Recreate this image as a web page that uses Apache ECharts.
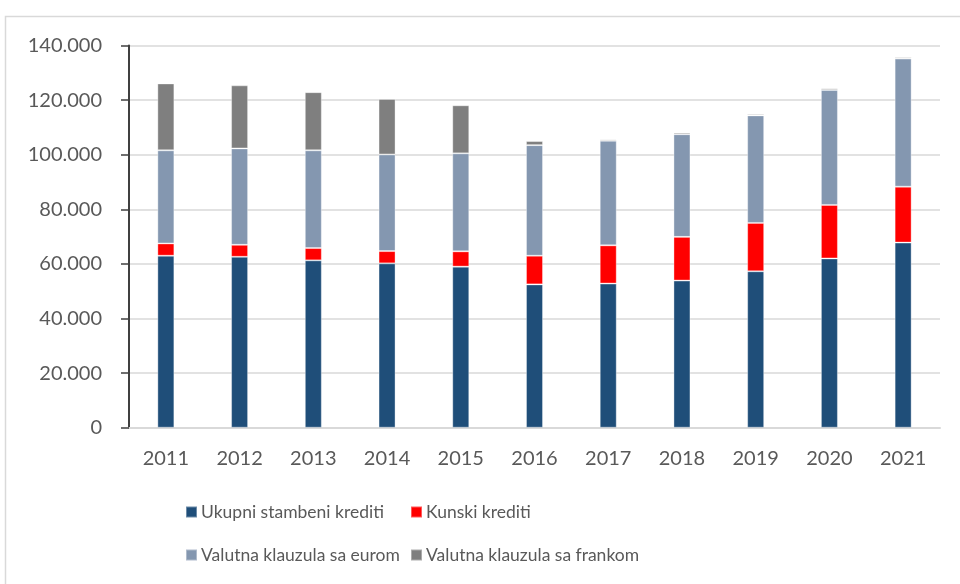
<!DOCTYPE html>
<html>
<head>
<meta charset="utf-8">
<script src="https://cdn.jsdelivr.net/npm/echarts@6/dist/echarts.min.js"></script>
<style>
  html, body { margin: 0; padding: 0; background: #fff; }
  #main { width: 960px; height: 584px; }
</style>
</head>
<body>
<div id="main"></div>
<script>
var years = ['2011', '2012', '2013', '2014', '2015', '2016', '2017', '2018', '2019', '2020', '2021'];
var ukupni = [63000, 62600, 61300, 60200, 59000, 52500, 52800, 53900, 57300, 62000, 67800];
var kunski = [4500, 4400, 4500, 4500, 5600, 10500, 14000, 16000, 17700, 19600, 20500];
var euro = [34100, 35300, 35800, 35400, 35900, 40500, 38300, 37600, 39400, 42100, 46900];
var franak = [24500, 23100, 21300, 20300, 17600, 1500, 500, 600, 500, 600, 500];
var seriesNames = ['Ukupni stambeni krediti', 'Kunski krediti', 'Valutna klauzula sa eurom', 'Valutna klauzula sa frankom'];
var colors = ['#1F4E79', '#FF0000', '#8497B0', '#7F7F7F'];

var font = 'Lato, sans-serif';
var textColor = '#595959';

function bar(name, data, color) {
  return {
    name: name,
    type: 'bar',
    stack: 'total',
    barWidth: 17,
    data: data,
    itemStyle: { color: color, borderColor: 'rgba(255,255,255,0.35)', borderWidth: 1 }
  };
}

function legendAt(name, left, top) {
  return {
    data: [name],
    left: left,
    top: top,
    itemWidth: 11,
    itemHeight: 11,
    itemGap: 0,
    padding: 0,
    icon: 'rect',
    selectedMode: false,
    textStyle: { fontFamily: font, fontSize: 17.5, color: textColor, padding: [0, 0, 0, -1] }
  };
}

var chart = echarts.init(document.getElementById('main'));
chart.setOption({
  animation: false,
  color: colors,
  graphic: [{
    type: 'rect',
    shape: { x: 5.5, y: 16.5, width: 1000, height: 700 },
    style: { fill: 'none', stroke: '#d9d9d9', lineWidth: 1.5 },
    silent: true
  }],
  grid: { left: 129, right: 20, top: 45.5, bottom: 156.3 },
  legend: [
    legendAt(seriesNames[0], 185, 503),
    legendAt(seriesNames[1], 410, 503),
    legendAt(seriesNames[2], 185, 546),
    legendAt(seriesNames[3], 410, 546)
  ],
  xAxis: {
    type: 'category',
    data: years,
    axisLine: { lineStyle: { color: '#d9d9d9', width: 2 } },
    axisTick: { show: false },
    axisLabel: { fontFamily: font, fontSize: 20, color: textColor, margin: 21 }
  },
  yAxis: {
    type: 'value',
    min: 0,
    max: 140000,
    interval: 20000,
    axisLine: { show: true, lineStyle: { color: '#404040', width: 2 } },
    axisTick: { show: true, length: 8, lineStyle: { color: '#404040', width: 1.5 } },
    splitLine: { lineStyle: { color: '#d9d9d9', width: 1.5 } },
    axisLabel: {
      fontFamily: font, fontSize: 20, color: textColor, margin: 27,
      formatter: function (v) {
        return v === 0 ? '0' : String(v).replace(/\B(?=(\d{3})+(?!\d))/g, '.');
      }
    }
  },
  series: [
    bar(seriesNames[0], ukupni, colors[0]),
    bar(seriesNames[1], kunski, colors[1]),
    bar(seriesNames[2], euro, colors[2]),
    bar(seriesNames[3], franak, colors[3])
  ]
});
</script>
</body>
</html>
